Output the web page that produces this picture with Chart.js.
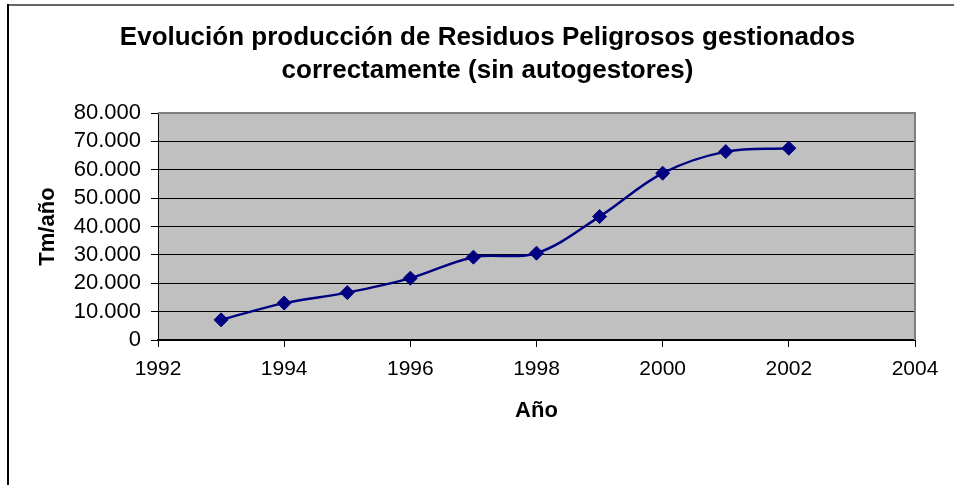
<!DOCTYPE html>
<html>
<head>
<meta charset="utf-8">
<script src="https://cdn.jsdelivr.net/npm/chart.js@4/dist/chart.umd.min.js"></script>
<style>
  html, body { margin: 0; padding: 0; background: #fff; }
  #wrap { width: 954px; height: 485px; position: relative; }
</style>
</head>
<body>
<div id="wrap"><canvas id="residuosChart"></canvas></div>
<script>
// data
const years = [1993, 1994, 1995, 1996, 1997, 1998, 1999, 2000, 2001, 2002];
const toneladas = [7100, 13000, 16700, 21800, 29200, 30600, 43500, 58800, 66400, 67600];
const xTicks = [1992, 1994, 1996, 1998, 2000, 2002, 2004];
const yTicks = [0, 10000, 20000, 30000, 40000, 50000, 60000, 70000, 80000];

const FONT = "'Liberation Sans', Arial, sans-serif";

// gray plot area, gray top/right border, outer frame
const plotBg = {
  id: "plotBg",
  beforeDraw(chart) {
    const { ctx, chartArea: a } = chart;
    ctx.save();
    ctx.fillStyle = "#c0c0c0";
    ctx.fillRect(a.left, a.top, a.right - a.left, a.bottom - a.top);
    ctx.lineWidth = 2;
    ctx.strokeStyle = "#666";
    ctx.beginPath();
    ctx.moveTo(8, 5);
    ctx.lineTo(chart.width, 5);
    ctx.stroke();
    ctx.strokeStyle = "#000";
    ctx.beginPath();
    ctx.moveTo(8, 4);
    ctx.lineTo(8, chart.height);
    ctx.stroke();
    ctx.restore();
  },
  beforeDatasetsDraw(chart) {
    const { ctx, chartArea: a } = chart;
    ctx.save();
    ctx.strokeStyle = "#808080";
    ctx.lineWidth = 2;
    ctx.beginPath();
    ctx.moveTo(a.left, a.top);
    ctx.lineTo(a.right, a.top);
    ctx.lineTo(a.right, a.bottom);
    ctx.stroke();
    ctx.restore();
  }
};

const ctx = document.getElementById("residuosChart");
new Chart(ctx, {
  type: "line",
  data: {
    datasets: [
      {
        label: "Tm/año",
        data: years.map((y, i) => ({ x: y, y: toneladas[i] })),
        borderColor: "#000080",
        backgroundColor: "#000080",
        borderWidth: 2.5,
        tension: 0.35,
        pointStyle: "rectRot",
        pointRadius: 7,
        pointBorderWidth: 1,
        pointBackgroundColor: "#000080",
        pointBorderColor: "#000080",
      },
    ],
  },
  options: {
    responsive: true,
    maintainAspectRatio: false,
    animation: false,
    layout: { padding: { left: 60, right: 39, top: 0, bottom: 57 } },
    plugins: {
      legend: { display: false },
      tooltip: { enabled: false },
      title: {
        display: true,
        text: ["Evolución producción de Residuos Peligrosos gestionados", "correctamente (sin autogestores)"],
        color: "#000",
        font: { family: FONT, size: 26, weight: "bold", lineHeight: 1.27 },
        padding: { top: 21, bottom: 26 },
      },
    },
    scales: {
      x: {
        type: "linear",
        min: 1992,
        max: 2004,
        afterBuildTicks(scale) {
          scale.ticks = xTicks.map((v) => ({ value: v }));
        },
        afterFit(scale) { scale.height = 88; },
        ticks: {
          color: "#000",
          padding: 10,
          maxRotation: 0,
          autoSkip: false,
          font: { family: FONT, size: 21 },
          callback: (v) => String(v),
        },
        grid: { drawOnChartArea: false, drawTicks: true, tickLength: 7, color: "#000" },
        border: { color: "#000", width: 2 },
        title: {
          display: true,
          text: "Año",
          color: "#000",
          font: { family: FONT, size: 22, weight: "bold" },
          padding: { top: 4, bottom: 4 },
        },
      },
      y: {
        min: 0,
        max: 80000,
        afterBuildTicks(scale) {
          scale.ticks = yTicks.map((v) => ({ value: v }));
        },
        afterFit(scale) { scale.width = 98; },
        ticks: {
          color: "#000",
          padding: 10,
          autoSkip: false,
          font: { family: FONT, size: 22 },
          callback: (v) => String(v).replace(/\B(?=(\d{3})+(?!\d))/g, "."),
        },
        grid: { color: "#000", lineWidth: 1, tickLength: 7, drawTicks: true },
        border: { color: "#000", width: 1 },
        title: {
          display: true,
          text: "Tm/año",
          color: "#000",
          font: { family: FONT, size: 22, weight: "bold" },
          padding: { top: -25, bottom: 4 },
        },
      },
    },
  },
  plugins: [plotBg],
});
</script>
</body>
</html>
